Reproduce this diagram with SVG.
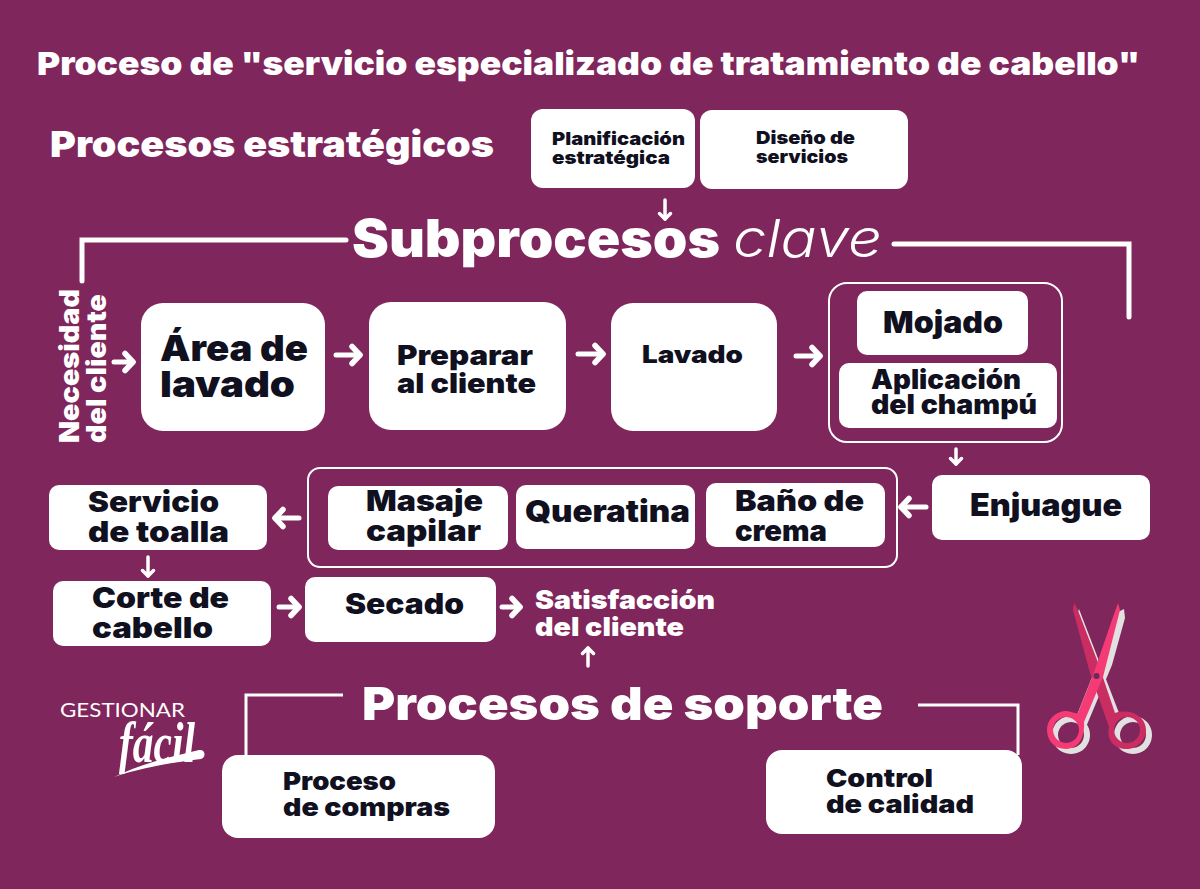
<svg xmlns="http://www.w3.org/2000/svg" width="1200" height="889" viewBox="0 0 1200 889">
<style>
text{font-family:"Inter","Liberation Sans",sans-serif;font-weight:900}
.d{fill:#10101f}
.w{fill:#fff}
.n{fill:#fff}
.fr{fill:none;stroke:#fff;stroke-width:2}
.c{fill:none;stroke:#fff;stroke-linecap:round;stroke-linejoin:miter}
.a{fill:none;stroke:#fff;stroke-width:5;stroke-linecap:round;stroke-linejoin:round;marker-end:url(#h)}
.s{fill:none;stroke:#fff;stroke-width:3.500;stroke-linecap:round;marker-end:url(#hs)}
</style>
<defs>
<marker id="h" markerUnits="userSpaceOnUse" markerWidth="16" markerHeight="24" viewBox="-12 -12 16 24" refX="0" refY="0" orient="auto"><path d="M-8-8.500L0 0L-8 8.500" fill="none" stroke="#fff" stroke-width="5.500" stroke-linecap="round" stroke-linejoin="round"/></marker>
<marker id="hs" markerUnits="userSpaceOnUse" markerWidth="12" markerHeight="16" viewBox="-9 -8 12 16" refX="0" refY="0" orient="auto"><path d="M-5.500-5.500L0 0L-5.500 5.500" fill="none" stroke="#fff" stroke-width="3.500" stroke-linecap="round" stroke-linejoin="round"/></marker>
</defs>
<rect width="1200" height="889" fill="#7f265c"/>
<text class="w" x="37" y="75" font-size="32" textLength="1103" lengthAdjust="spacingAndGlyphs">Proceso de "servicio especializado de tratamiento de cabello"</text>
<text class="w" x="50" y="157" font-size="36" textLength="444" lengthAdjust="spacingAndGlyphs">Procesos estratégicos</text>
<text class="w" x="352" y="257" font-size="52" textLength="368" lengthAdjust="spacingAndGlyphs">Subprocesos</text>
<text class="w" x="733" y="257" font-size="52" textLength="149" lengthAdjust="spacingAndGlyphs" font-style="italic" style="font-weight:300">clave</text>
<text class="w" x="362" y="720" font-size="46" textLength="521" lengthAdjust="spacingAndGlyphs">Procesos de soporte</text>
<g id="connectors">
<path class="c" stroke-width="5" d="M82 281V240H346"/>
<path class="c" stroke-width="5" d="M894 244H1129V317"/>
<path class="c" stroke-width="3" style="stroke-linecap:butt" d="M246 755V695H343"/>
<path class="c" stroke-width="3" style="stroke-linecap:butt" d="M918 705H1018V755"/>
<path class="s" d="M665 200V219"/>
<path class="a" d="M114 362H133"/>
<path class="a" d="M336 355H360"/>
<path class="a" d="M578 354H603"/>
<path class="a" d="M796 356H820"/>
<path class="s" d="M956 449V464"/>
<path class="a" d="M926 507H901"/>
<path class="a" d="M299 518H275"/>
<path class="s" d="M148 557V576"/>
<path class="a" d="M279 607H299"/>
<path class="a" d="M502 607H520"/>
<path class="s" d="M588 666V648"/>
</g>
<g id="n-planificacion"><rect class="n" x="531" y="109" width="164" height="79" rx="12"/><text class="d" font-size="18"><tspan x="552" y="145" textLength="133" lengthAdjust="spacingAndGlyphs">Planificación</tspan><tspan x="552" y="164" textLength="118" lengthAdjust="spacingAndGlyphs">estratégica</tspan></text></g>
<g id="n-diseno"><rect class="n" x="700" y="110" width="208" height="79" rx="12"/><text class="d" font-size="18"><tspan x="756" y="144" textLength="99" lengthAdjust="spacingAndGlyphs">Diseño de</tspan><tspan x="756" y="163" textLength="92" lengthAdjust="spacingAndGlyphs">servicios</tspan></text></g>
<g id="n-necesidad"><text class="w" font-size="27" transform="translate(79 443) rotate(-90)" textLength="154" lengthAdjust="spacingAndGlyphs">Necesidad</text><text class="w" font-size="27" transform="translate(106 443) rotate(-90)" textLength="149" lengthAdjust="spacingAndGlyphs">del cliente</text></g>
<g id="n-area"><rect class="n" x="141" y="303" width="184" height="128" rx="22"/><text class="d" font-size="36"><tspan x="160" y="361" textLength="148" lengthAdjust="spacingAndGlyphs">Área de</tspan><tspan x="160" y="397" textLength="135" lengthAdjust="spacingAndGlyphs">lavado</tspan></text></g>
<g id="n-preparar"><rect class="n" x="369" y="302" width="197" height="128" rx="22"/><text class="d" font-size="27"><tspan x="397" y="365" textLength="136" lengthAdjust="spacingAndGlyphs">Preparar</tspan><tspan x="397" y="393" textLength="139" lengthAdjust="spacingAndGlyphs">al cliente</tspan></text></g>
<g id="n-lavado"><rect class="n" x="611" y="303" width="166" height="128" rx="22"/><text class="d" x="642" y="363" font-size="24" textLength="101" lengthAdjust="spacingAndGlyphs">Lavado</text></g>
<rect class="fr" x="829" y="283" width="233" height="159" rx="18"/>
<g id="n-mojado"><rect class="n" x="857" y="291" width="171" height="64" rx="10"/><text class="d" x="883" y="333" font-size="30" textLength="120" lengthAdjust="spacingAndGlyphs">Mojado</text></g>
<g id="n-aplicacion"><rect class="n" x="839" y="363" width="218" height="65" rx="10"/><text class="d" font-size="27"><tspan x="871" y="389" textLength="150" lengthAdjust="spacingAndGlyphs">Aplicación</tspan><tspan x="871" y="414" textLength="166" lengthAdjust="spacingAndGlyphs">del champú</tspan></text></g>
<g id="n-enjuague"><rect class="n" x="932" y="475" width="218" height="65" rx="10"/><text class="d" x="970" y="516" font-size="31" textLength="152" lengthAdjust="spacingAndGlyphs">Enjuague</text></g>
<rect class="fr" x="308" y="468" width="589" height="99" rx="12"/>
<g id="n-masaje"><rect class="n" x="328" y="486" width="180" height="64" rx="10"/><text class="d" font-size="29"><tspan x="366" y="511" textLength="117" lengthAdjust="spacingAndGlyphs">Masaje</tspan><tspan x="366" y="541" textLength="115" lengthAdjust="spacingAndGlyphs">capilar</tspan></text></g>
<g id="n-queratina"><rect class="n" x="516" y="485" width="179" height="64" rx="10"/><text class="d" x="525" y="522" font-size="30" textLength="165" lengthAdjust="spacingAndGlyphs">Queratina</text></g>
<g id="n-bano"><rect class="n" x="706" y="483" width="179" height="64" rx="10"/><text class="d" font-size="29"><tspan x="735" y="511" textLength="129" lengthAdjust="spacingAndGlyphs">Baño de</tspan><tspan x="735" y="541" textLength="92" lengthAdjust="spacingAndGlyphs">crema</tspan></text></g>
<g id="n-toalla"><rect class="n" x="49" y="485" width="218" height="65" rx="10"/><text class="d" font-size="29"><tspan x="88" y="512" textLength="131" lengthAdjust="spacingAndGlyphs">Servicio</tspan><tspan x="88" y="542" textLength="141" lengthAdjust="spacingAndGlyphs">de toalla</tspan></text></g>
<g id="n-corte"><rect class="n" x="53" y="581" width="218" height="65" rx="10"/><text class="d" font-size="29"><tspan x="92" y="608" textLength="137" lengthAdjust="spacingAndGlyphs">Corte de</tspan><tspan x="92" y="638" textLength="121" lengthAdjust="spacingAndGlyphs">cabello</tspan></text></g>
<g id="n-secado"><rect class="n" x="305" y="577" width="191" height="65" rx="10"/><text class="d" x="345" y="614" font-size="28" textLength="119" lengthAdjust="spacingAndGlyphs">Secado</text></g>
<g id="n-satisfaccion"><text class="w" font-size="26"><tspan x="535" y="609" textLength="180" lengthAdjust="spacingAndGlyphs">Satisfacción</tspan><tspan x="535" y="636" textLength="149" lengthAdjust="spacingAndGlyphs">del cliente</tspan></text></g>
<g id="n-compras"><rect class="n" x="222" y="755" width="273" height="83" rx="16"/><text class="d" font-size="25"><tspan x="283" y="790" textLength="113" lengthAdjust="spacingAndGlyphs">Proceso</tspan><tspan x="283" y="816" textLength="167" lengthAdjust="spacingAndGlyphs">de compras</tspan></text></g>
<g id="n-calidad"><rect class="n" x="766" y="750" width="256" height="84" rx="16"/><text class="d" font-size="25"><tspan x="826" y="787" textLength="107" lengthAdjust="spacingAndGlyphs">Control</tspan><tspan x="826" y="813" textLength="148" lengthAdjust="spacingAndGlyphs">de calidad</tspan></text></g>
<g id="logo">
<text x="60" y="717" fill="#fff" font-size="20" textLength="125" lengthAdjust="spacingAndGlyphs" style="font-family:'Lato','Liberation Sans',sans-serif;font-weight:400">GESTIONAR</text>
<text fill="#fff" font-size="50" transform="translate(119 762) scale(1 1.15)" textLength="76" lengthAdjust="spacingAndGlyphs" font-style="italic" style="font-family:'Liberation Serif',serif;font-weight:700">fácil</text>
<path fill="#fff" d="M114 777C140 764 170 757 199 750C206 749 206 758 201 759C175 762 140 768 114 777Z"/>
</g>
<g id="scissors">
<g fill="#e2e0e0">
<path d="M1124 609L1125 618L1112 665L1086 727L1075 720L1118 612Z"/>
<path d="M1079 609L1119 713L1114 713L1078 612Z"/>
<path fill-rule="evenodd" d="M1071 716a19 19 0 1 0 .01 0ZM1071 722a13 13 0 1 1-.01 0Z"/>
<path fill-rule="evenodd" d="M1133 716a19 19 0 1 0 .01 0ZM1133 722a13 13 0 1 1-.01 0Z"/>
</g>
<path fill="#c92d62" fill-rule="evenodd" d="M1074 603L1077 608L1097 660L1115 713C1130 708 1146 716 1146 730C1146 741 1136 749 1127 749C1115 749 1106 741 1109 727L1090 673L1073 610ZM1127 717a13 13 0 1 0 .01 0Z"/>
<path fill="#f43b76" fill-rule="evenodd" d="M1118 603L1120 610L1103 677L1084 722C1085 735 1080 749 1066 749C1054 749 1047 740 1047 730C1047 718 1058 711 1066 711C1070 711 1074 714 1078 713L1093 675L1113 617ZM1066 717a13 13 0 1 0 .01 0Z"/>
<circle cx="1096.500" cy="676" r="3" fill="#6a2a5e"/>
</g>
</svg>
